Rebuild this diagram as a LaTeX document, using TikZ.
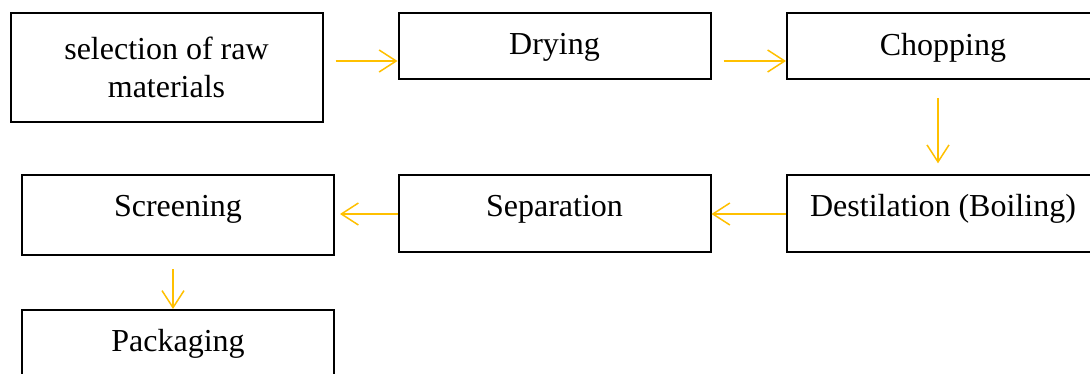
\documentclass[tikz,border=0pt]{standalone}
\usepackage{fontspec}
\setmainfont{Liberation Serif}
\usetikzlibrary{arrows.meta}
\definecolor{flowgold}{RGB}{255,192,0}
\begin{document}
\begin{tikzpicture}[x=1pt,y=-1pt,
  procbox/.style={draw=black, line width=2pt, inner sep=0pt, minimum width=312pt,
    anchor=north west, font=\fontsize{32}{38}\selectfont, align=center},
  flow/.style={draw=flowgold, line width=1.5pt, -{Straight Barb[length=17pt,width=22pt]}}
]
\clip (0,0) rectangle (1090,374);
\fill[white] (0,0) rectangle (1090,374);
\node[procbox, minimum height=109pt] (b1) at (9.5,12) {selection of raw\\materials};
\node[procbox, text height=42pt, text depth=24pt] (b2) at (397.5,12) {Drying};
\node[procbox, text height=43pt, text depth=23pt] (b3) at (786,12) {Chopping};
\node[procbox, text height=41.7pt, text depth=34.7pt] (b4) at (786,174.3) {Destilation (Boiling)};
\node[procbox, text height=41.7pt, text depth=34.7pt] (b5) at (397.5,174.3) {Separation};
\node[procbox, text height=41.7pt, text depth=38.3pt] (b6) at (21,174.3) {Screening};
\node[procbox, text height=41pt, text depth=40pt] (b7) at (21,309) {Packaging};
\coordinate (a1s) at ([xshift=12pt,yshift=6.5pt]b1.east);
\draw[flow] (a1s) -- (a1s -| b2.west);
\coordinate (a2s) at ([xshift=12pt,yshift=-15pt]b2.east);
\draw[flow] (a2s) -- (a2s -| b3.west);
\coordinate (a3s) at ([xshift=-5pt,yshift=-18pt]b3.south);
\draw[flow, shorten >=11pt] (a3s) -- (a3s |- b4.north);
\coordinate (a4s) at ([yshift=-0.5pt]b4.west);
\draw[flow] (a4s) -- (a4s -| b5.east);
\coordinate (a5s) at ([yshift=-0.5pt]b5.west);
\draw[flow, shorten >=5pt] (a5s) -- (a5s -| b6.east);
\coordinate (a6s) at ([xshift=-5pt,yshift=-13pt]b6.south);
\draw[flow] (a6s) -- (a6s |- b7.north);
\end{tikzpicture}
\end{document}
